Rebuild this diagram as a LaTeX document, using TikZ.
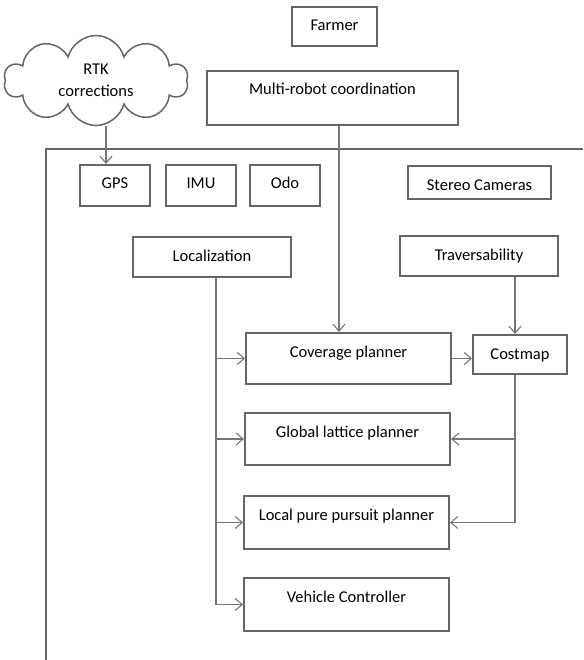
\documentclass[tikz,border=0pt]{standalone}
\usepackage{fontspec}
\setmainfont{Carlito}
\usetikzlibrary{arrows.meta,shapes.symbols}
\definecolor{boxgray}{HTML}{656565}
\definecolor{linegray}{HTML}{767676}

\begin{document}
\begin{tikzpicture}[
    x=1pt, y=-1pt,
    blk/.style={draw=boxgray, line width=2pt, anchor=north west,
                inner xsep=0pt, inner ysep=0pt, text height=24pt,
                font=\fontsize{16.5}{20}\selectfont},
    conn/.style={draw=linegray, line width=1.1pt},
    arr/.style={conn, -{Straight Barb[length=7pt, width=12pt]}},
  ]
  \useasboundingbox (0,0) rectangle (583,660);

  % --- outside the vehicle ---
  \node[blk, minimum width=85pt, text depth=15pt] (farmer) at (291,6) {Farmer};
  \node[blk, minimum width=251pt, text depth=30pt] (multi) at (206,70) {Multi-robot coordination};
  \node[cloud, cloud puffs=10, aspect=2.1, draw=boxgray, line width=1.5pt,
        minimum width=184pt, minimum height=90pt, align=center,
        font=\fontsize{16.5}{22}\selectfont] (rtk) at (96,80.5) {RTK\\corrections};

  % --- vehicle frame (runs off the page) ---
  \draw[draw=boxgray, line width=1.6pt] (583,149) -- (46,149) -- (46,660);

  % sensors
  \node[blk, minimum width=70pt, text depth=17pt] (gps) at (79,164) {GPS};
  \node[blk, minimum width=70pt, text depth=17pt] (imu) at (165,164) {IMU};
  \node[blk, minimum width=70pt, text depth=17pt] (odo) at (249,164) {Odo};
  \node[blk, minimum width=143pt, text depth=9pt] (stereo) at (407,165) {Stereo Cameras};

  % estimation
  \node[blk, minimum width=158pt, text depth=16pt] (loc) at (132,236) {Localization};
  \node[blk, minimum width=158pt, text depth=16pt] (trav) at (399,235) {Traversability};

  % planning and control
  \node[blk, minimum width=205pt, text depth=27pt] (cov) at (245,332) {Coverage planner};
  \node[blk, minimum width=94pt, text depth=15pt] (cm) at (472,334) {Costmap};
  \node[blk, minimum width=205pt, text depth=28pt] (glp) at (244,412) {Global lattice planner};
  \node[blk, minimum width=205pt, text depth=29pt] (lpp) at (243,495) {Local pure pursuit planner};
  \node[blk, minimum width=205pt, text depth=29pt] (vc) at (243,577) {Vehicle Controller};

  % --- connectors ---
  \draw[arr] ([xshift=-9pt]gps.north |- rtk.south) -- ([xshift=-9pt]gps.north);
  \draw[arr] ([xshift=6.5pt]multi.south) -- ([xshift=6.5pt]multi.south |- cov.north);
  \draw[arr] ([xshift=-5pt]cm.north |- trav.south) -- ([xshift=-5pt]cm.north);
  \draw[arr] (cov.east) -- (cov.east -| cm.west);

  % localization to every planner
  \draw[arr] ([xshift=4pt]loc.south) |- (vc.west);
  \foreach \b in {cov,glp,lpp}
    \draw[arr] ([xshift=4pt]loc.south |- \b.west) -- (\b.west);

  % costmap to the path planners
  \draw[arr] ([xshift=-5pt]cm.south) |- (lpp.east);
  \draw[arr] ([xshift=-5pt]cm.south |- glp.east) -- (glp.east);
\end{tikzpicture}
\end{document}
